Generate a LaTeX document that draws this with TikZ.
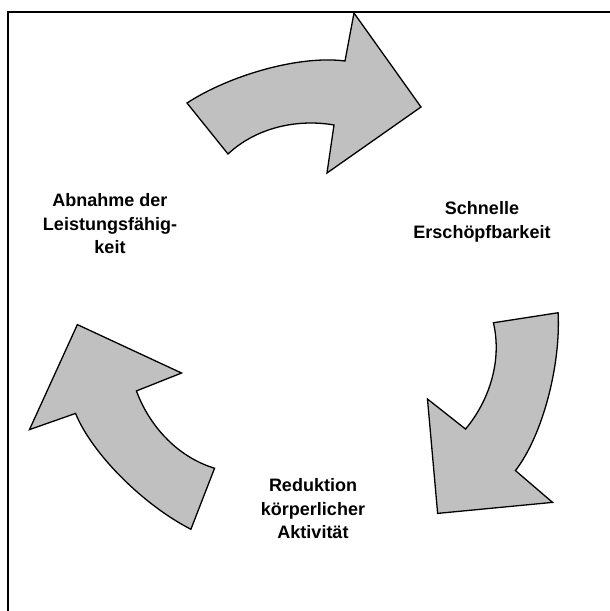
\documentclass[tikz,border=0pt]{standalone}
\usepackage{fontspec}
\setmainfont{Liberation Sans}
\definecolor{arrowgray}{RGB}{192,192,192}

\begin{document}
\begin{tikzpicture}[
  x=1pt, y=1pt,
  cyclearrow/.style={draw, fill=arrowgray, line width=1.3pt, line join=miter},
  stagetext/.style={font=\bfseries\fontsize{18}{23.5}\selectfont, align=center},
  frame/.style={line width=2pt},
]
  \useasboundingbox (-312,-296) rectangle (298,315);

  % Frame (left and top only)
  \draw[frame] (-304,-296) -- (-304,303) -- (298,303);

  % Curved arrows of the cycle
  \foreach \rot in {0,-120,-240} {
    \draw[cyclearrow, rotate=\rot]
      (-125,212) .. controls (-82,240) and (-12,260) .. (33,254)
      -- (42,302) -- (109,208) -- (15,142) -- (22,190)
      .. controls (-12,196) and (-54,189) .. (-84,161) -- cycle;
  }

  % Stages
  \node[stagetext] (abnahme) at (-202,91) {Abnahme der\\Leistungsfähig-\\keit};
  \node[stagetext] (schnelle) at (170,93) {Schnelle\\Erschöpfbarkeit};
  \node[stagetext] (reduktion) at (1,-194) {Reduktion\\körperlicher\\Aktivität};

\end{tikzpicture}
\end{document}
